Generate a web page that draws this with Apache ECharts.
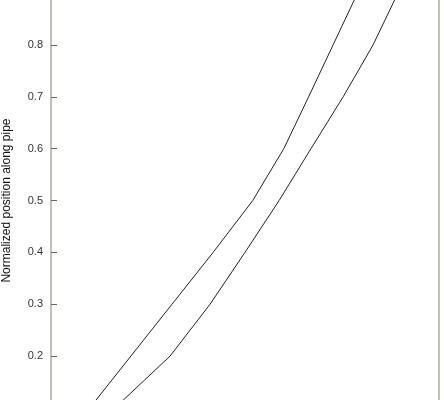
<!DOCTYPE html>
<html lang="en">

<head>
    <meta charset="UTF-8">
    <title>Normalized position along pipe</title>
    <script src="https://cdn.jsdelivr.net/npm/echarts@6/dist/echarts.min.js"></script>
    <style>
        html, body { margin: 0; padding: 0; background: #fff; }
        #main { width: 444px; height: 400px; }
    </style>
</head>

<body>
    <div id="main"></div>
    <script>
        // position along pipe (y) and the two curves (x)
        var positions = [0.1, 0.2, 0.3, 0.4, 0.5, 0.6, 0.7, 0.8, 0.9];
        var curveA = [0.10, 0.206, 0.312, 0.418, 0.52, 0.60, 0.664, 0.727, 0.79];
        var curveB = [0.165, 0.307, 0.41, 0.50, 0.588, 0.67, 0.753, 0.83, 0.894];

        function pairs(xs) {
            var out = [];
            for (var i = 0; i < positions.length; i++) {
                out.push([xs[i], positions[i]]);
            }
            return out;
        }

        var myChart = echarts.init(document.getElementById('main'));
        var lineStyle = { color: '#222', width: 1 };

        var option = {
            animation: false,
            grid: {
                left: 51,
                right: 5,
                top: -58.7,
                bottom: -59.7,
                containLabel: false,
                outerBoundsMode: 'none'
            },
            xAxis: {
                type: 'value',
                min: 0,
                max: 1,
                show: false
            },
            yAxis: [{
                type: 'value',
                min: 0,
                max: 1,
                interval: 0.1,
                name: 'Normalized position along pipe',
                nameLocation: 'middle',
                nameGap: 38,
                nameTextStyle: {
                    fontFamily: 'Liberation Sans',
                    fontSize: 12,
                    color: '#111'
                },
                axisLine: {
                    lineStyle: { color: '#c0c0b3', width: 2 }
                },
                axisTick: {
                    inside: true,
                    length: 6,
                    lineStyle: { color: '#666' }
                },
                axisLabel: {
                    margin: 8,
                    fontFamily: 'Liberation Sans',
                    fontSize: 11,
                    color: '#333',
                    formatter: function (v) { return v.toFixed(1); }
                },
                splitLine: { show: false }
            }, {
                type: 'value',
                position: 'right',
                min: 0,
                max: 1,
                axisLine: {
                    show: true,
                    lineStyle: { color: '#c0c0b3', width: 2 }
                },
                axisTick: { show: false },
                axisLabel: { show: false },
                splitLine: { show: false }
            }],
            series: [{
                type: 'line',
                data: pairs(curveA),
                showSymbol: false,
                lineStyle: lineStyle
            }, {
                type: 'line',
                data: pairs(curveB),
                showSymbol: false,
                lineStyle: lineStyle
            }]
        };
        myChart.setOption(option);
    </script>
</body>

</html>
